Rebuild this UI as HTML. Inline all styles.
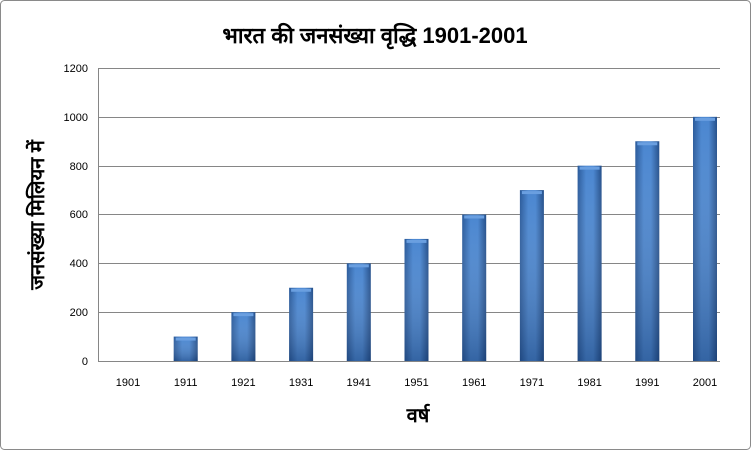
<!DOCTYPE html>
<html><head><meta charset="utf-8"><style>
html,body{margin:0;padding:0;background:#fff}
svg{display:block}
text{font-family:"Liberation Sans","Noto Sans CJK SC",sans-serif}
</style></head><body>
<svg width="751" height="450" viewBox="0 0 751 450" xmlns="http://www.w3.org/2000/svg">
<defs>
<linearGradient id="g" x1="0" y1="0" x2="1" y2="0">
<stop offset="0" stop-color="#2a5a9a"/>
<stop offset="0.35" stop-color="#4a86d0"/>
<stop offset="0.65" stop-color="#4a86d0"/>
<stop offset="1" stop-color="#244f8a"/>
</linearGradient>
<linearGradient id="v" x1="0" y1="0" x2="0" y2="1">
<stop offset="0" stop-color="#fff" stop-opacity="0"/>
<stop offset="1" stop-color="#0a2550" stop-opacity="0.35"/>
</linearGradient>
</defs>
<rect x="0.5" y="0.5" width="750" height="449" rx="4" fill="#fff" stroke="#8a8a8a"/>
<text x="375" y="43" font-size="22" font-weight="bold" text-anchor="middle" fill="#000">भारत की जनसंख्या वृद्धि 1901-2001</text>
<g stroke="#868686" stroke-width="1">
<line x1="98" y1="68.5" x2="720" y2="68.5"/>
<line x1="98" y1="117.5" x2="720" y2="117.5"/>
<line x1="98" y1="166.5" x2="720" y2="166.5"/>
<line x1="98" y1="214.5" x2="720" y2="214.5"/>
<line x1="98" y1="263.5" x2="720" y2="263.5"/>
<line x1="98" y1="312.5" x2="720" y2="312.5"/>
<line x1="98" y1="361.5" x2="720" y2="361.5"/>
<line x1="98.5" y1="68" x2="98.5" y2="361"/>
</g>
<g font-size="11" fill="#000" text-anchor="end">
<text x="88" y="72">1200</text><text x="88" y="121">1000</text><text x="88" y="170">800</text>
<text x="88" y="218">600</text><text x="88" y="267">400</text><text x="88" y="316">200</text><text x="88" y="365">0</text>
</g>
<g id="bars"></g>
<g font-size="11" fill="#000" text-anchor="middle" id="xl"></g>
<text x="418" y="422" font-size="20" text-anchor="middle" font-weight="bold">वर्ष</text>
<text transform="translate(44,215) rotate(-90)" font-size="20" font-weight="bold" text-anchor="middle">जनसंख्या मिलियन में</text>
<script>
var b=document.getElementById('bars'),xl=document.getElementById('xl'),ns='http://www.w3.org/2000/svg';
for(var i=0;i<11;i++){var c=128+i*57.7,v=i*100,h=v*293/1200,y=361-h;
if(h>0){var r=document.createElementNS(ns,'rect');r.setAttribute('x',c-12);r.setAttribute('y',y);r.setAttribute('width',24);r.setAttribute('height',h);r.setAttribute('fill','url(#g)');b.appendChild(r);
var r2=document.createElementNS(ns,'rect');r2.setAttribute('x',c-12);r2.setAttribute('y',y);r2.setAttribute('width',24);r2.setAttribute('height',h);r2.setAttribute('fill','url(#v)');b.appendChild(r2);
var t=document.createElementNS(ns,'rect');t.setAttribute('x',c-10);t.setAttribute('y',y+1);t.setAttribute('width',20);t.setAttribute('height',3);t.setAttribute('fill','#6a9fe0');b.appendChild(t);}
var tx=document.createElementNS(ns,'text');tx.setAttribute('x',c);tx.setAttribute('y',386);tx.textContent=String(1901+i*10);xl.appendChild(tx);}
</script>
</svg>
</body></html>
